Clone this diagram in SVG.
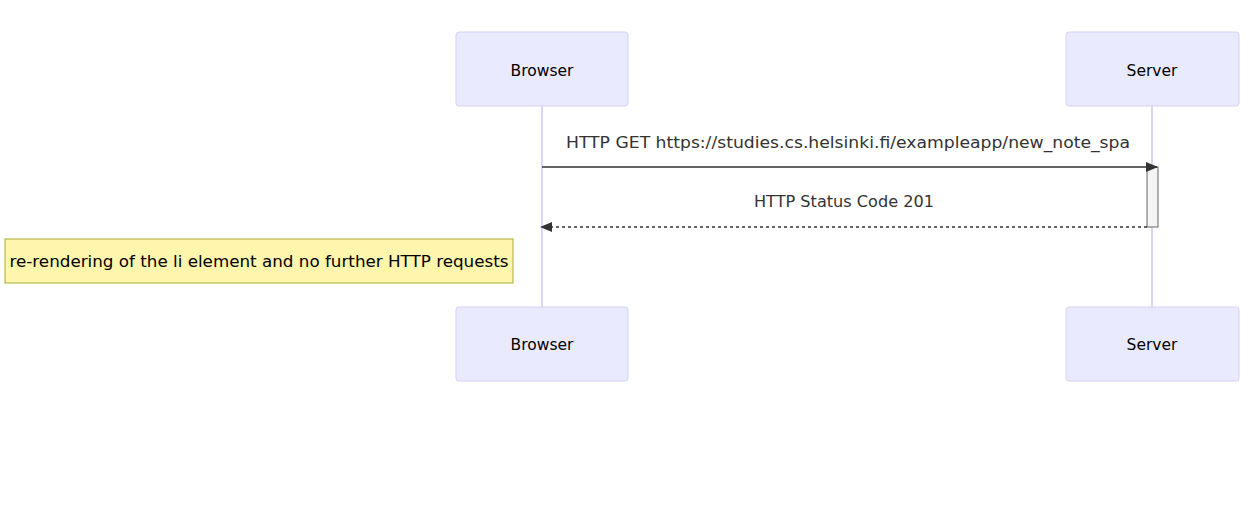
<svg xmlns="http://www.w3.org/2000/svg" width="1253" height="507" viewBox="0 0 1253 507">
<style>
.actor{fill:#eaeaff;stroke:#d6d0f5;stroke-width:1}
.life{stroke:#dcd4f7;stroke-width:2}
.t{font-family:"DejaVu Sans",sans-serif;font-size:15.5px;fill:#000;text-anchor:middle;dominant-baseline:central}
.m{font-family:"DejaVu Sans",sans-serif;font-size:15.5px;fill:#333;text-anchor:middle;dominant-baseline:central}
.msg{stroke:#333;stroke-width:1.5;fill:none}
</style>
<defs>
<marker id="arrow" viewBox="0 0 12 10" refX="11" refY="5" markerWidth="12" markerHeight="10" markerUnits="userSpaceOnUse" orient="auto">
<path d="M0,0 L12,5 L0,10 z" fill="#333"/>
</marker>
</defs>
<rect width="1253" height="507" fill="#fff"/>
<g id="lifelines">
<line class="life" x1="542" y1="106" x2="542" y2="307"/>
<line class="life" x1="1152" y1="106" x2="1152" y2="307"/>
</g>
<g id="browser-top"><rect class="actor" x="456" y="32" width="172" height="74" rx="3"/><text class="t" x="542" y="71">Browser</text></g>
<g id="server-top"><rect class="actor" x="1066" y="32" width="173" height="74" rx="3"/><text class="t" x="1152" y="71">Server</text></g>
<g id="browser-bottom"><rect class="actor" x="456" y="307" width="172" height="74" rx="3"/><text class="t" x="542" y="345">Browser</text></g>
<g id="server-bottom"><rect class="actor" x="1066" y="307" width="173" height="74" rx="3"/><text class="t" x="1152" y="345">Server</text></g>
<g id="activation"><rect x="1147" y="167" width="11" height="60" fill="#f4f4f4" stroke="#666" stroke-width="1"/></g>
<g id="connectors">
<line class="msg" x1="542" y1="167" x2="1157" y2="167" marker-end="url(#arrow)"/>
<text class="m" x="848" y="143" textLength="564" lengthAdjust="spacingAndGlyphs">HTTP GET https://studies.cs.helsinki.fi/exampleapp/new_note_spa</text>
<line class="msg" x1="1147" y1="227" x2="541" y2="227" stroke-dasharray="3,3" marker-end="url(#arrow)"/>
<text class="m" x="844" y="202" textLength="180" lengthAdjust="spacingAndGlyphs">HTTP Status Code 201</text>
</g>
<g id="note"><rect x="5" y="239" width="508" height="44" fill="#fff5ad" stroke="#aaaa33" stroke-width="1"/><text class="t" x="259" y="262" textLength="499" lengthAdjust="spacingAndGlyphs">re-rendering of the li element and no further HTTP requests</text></g>
</svg>
